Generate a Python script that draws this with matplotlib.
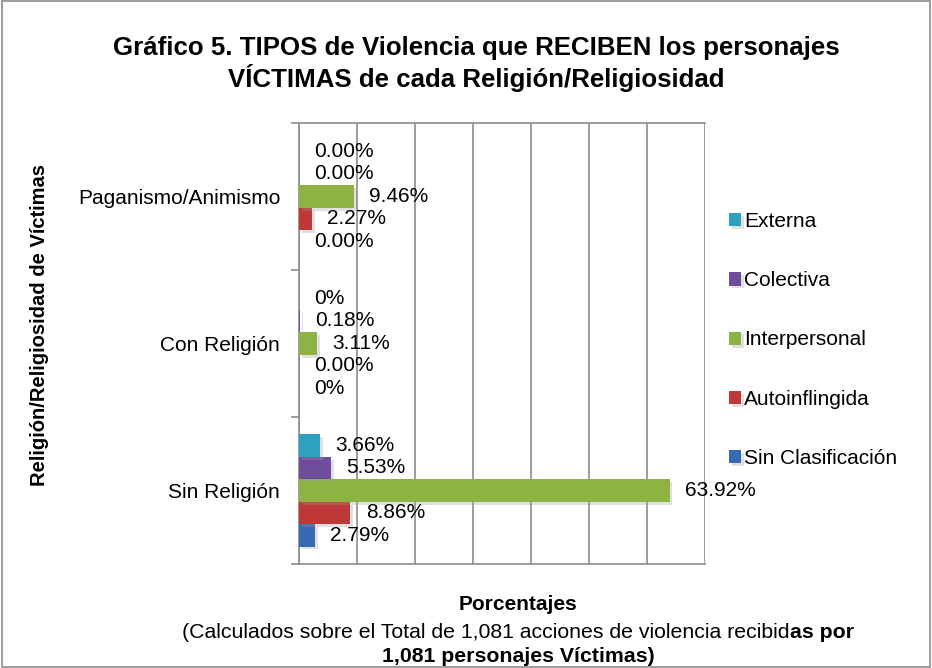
import matplotlib.pyplot as plt
import matplotlib.patheffects as pe
from matplotlib.patches import Rectangle
import numpy as np

plt.rcParams['font.family'] = ['Liberation Sans', 'DejaVu Sans']

categorias = ['Sin Religión', 'Con Religión', 'Paganismo/Animismo']

# valores en %, orden: Sin Religión, Con Religión, Paganismo/Animismo
sin_clasificacion = [2.79, 0.00, 0.00]
autoinflingida = [8.86, 0.00, 2.27]
interpersonal = [63.92, 3.11, 9.46]
colectiva = [5.53, 0.18, 0.00]
externa = [3.66, 0.00, 0.00]

etq_sin_clasificacion = ['2.79%', '0%', '0.00%']
etq_autoinflingida = ['8.86%', '0.00%', '2.27%']
etq_interpersonal = ['63.92%', '3.11%', '9.46%']
etq_colectiva = ['5.53%', '0.18%', '0.00%']
etq_externa = ['3.66%', '0%', '0.00%']

series = [
    ('Sin Clasificación', sin_clasificacion, etq_sin_clasificacion, '#3569B0'),
    ('Autoinflingida', autoinflingida, etq_autoinflingida, '#BE3838'),
    ('Interpersonal', interpersonal, etq_interpersonal, '#8DB443'),
    ('Colectiva', colectiva, etq_colectiva, '#6F4C9C'),
    ('Externa', externa, etq_externa, '#2EA0C0'),
]

fig = plt.figure(figsize=(9.32, 6.68), dpi=100)
ax = fig.add_axes([0.3208, 0.1557, 0.4356, 0.6602])

y = np.arange(len(categorias))
h = 0.153
sombra = [pe.SimplePatchShadow(offset=(2, -2), shadow_rgbFace='#999999', alpha=0.3), pe.Normal()]
handles = []
for i, (nombre, vals, etqs, color) in enumerate(series):
    off = (i - 2) * h
    bars = ax.barh(y + off, vals, height=h, color=color, label=nombre, zorder=3)
    for b in bars:
        b.set_path_effects(sombra)
    for yy, v, t in zip(y + off, vals, etqs):
        ax.annotate(t, (v, yy), xytext=(11, 0), textcoords='offset points',
                    va='center', ha='left', fontsize=15, zorder=4)
    handles.append(bars)

ax.set_xlim(0, 70)
ax.set_ylim(-0.5, 2.5)
ax.set_xticks(np.arange(0, 71, 10))
ax.set_xticklabels([])
ax.tick_params(axis='x', length=0)
ax.grid(axis='x', color='#8c8c8c', linewidth=1.2, zorder=0)
ax.set_yticks(y)
ax.set_yticklabels(categorias, fontsize=15)
ax.tick_params(axis='y', which='major', length=0, pad=13.5)
ax.set_yticks([-0.5, 0.5, 1.5, 2.5], minor=True)
ax.tick_params(axis='y', which='minor', length=6, width=1.2, color='#8c8c8c')
for s in ['top', 'bottom', 'left']:
    ax.spines[s].set_color('#8c8c8c')
    ax.spines[s].set_linewidth(1.2)
ax.spines['right'].set_visible(False)

fig.legend(handles[::-1], [s[0] for s in series][::-1], loc='upper left',
           bbox_to_anchor=(0.773, 0.695), frameon=False, fontsize=15,
           handlelength=0.6, handleheight=0.6, handletextpad=0.15,
           labelspacing=1.93, borderaxespad=0)

fig.text(0.511, 1 - 64 / 668,
         'Gráfico 5. TIPOS de Violencia que RECIBEN los personajes\nVÍCTIMAS de cada Religión/Religiosidad',
         ha='center', va='center', fontsize=18.6, fontweight='bold', linespacing=1.2)

fig.text(40 / 932, 1 - 325 / 668, 'Religión/Religiosidad de Víctimas', rotation=90,
         ha='center', va='center', fontsize=14.5, fontweight='bold')

fig.text(518 / 932, 1 - 605 / 668, 'Porcentajes', ha='center', va='center',
         fontsize=15, fontweight='bold')

# linea mixta regular + negrita
renderer = fig.canvas.get_renderer()
t1 = fig.text(0, 1 - 632 / 668, '(Calculados sobre el Total de 1,081 acciones de violencia recibid',
              ha='left', va='center', fontsize=15.3)
t2 = fig.text(0, 1 - 632 / 668, 'as por', ha='left', va='center', fontsize=15.3, fontweight='bold')
w1 = t1.get_window_extent(renderer).width / fig.bbox.width
w2 = t2.get_window_extent(renderer).width / fig.bbox.width
x0 = 518 / 932 - (w1 + w2) / 2
t1.set_x(x0)
t2.set_x(x0 + w1)
fig.text(518 / 932, 1 - 656 / 668, '1,081 personajes Víctimas)', ha='center', va='center',
         fontsize=15.3, fontweight='bold')

fig.patches.append(Rectangle((0.002, 0.002), 0.996, 0.996, transform=fig.transFigure,
                             fill=False, edgecolor='#8c8c8c', linewidth=1.2))

fig.savefig('out.png', dpi=100)
